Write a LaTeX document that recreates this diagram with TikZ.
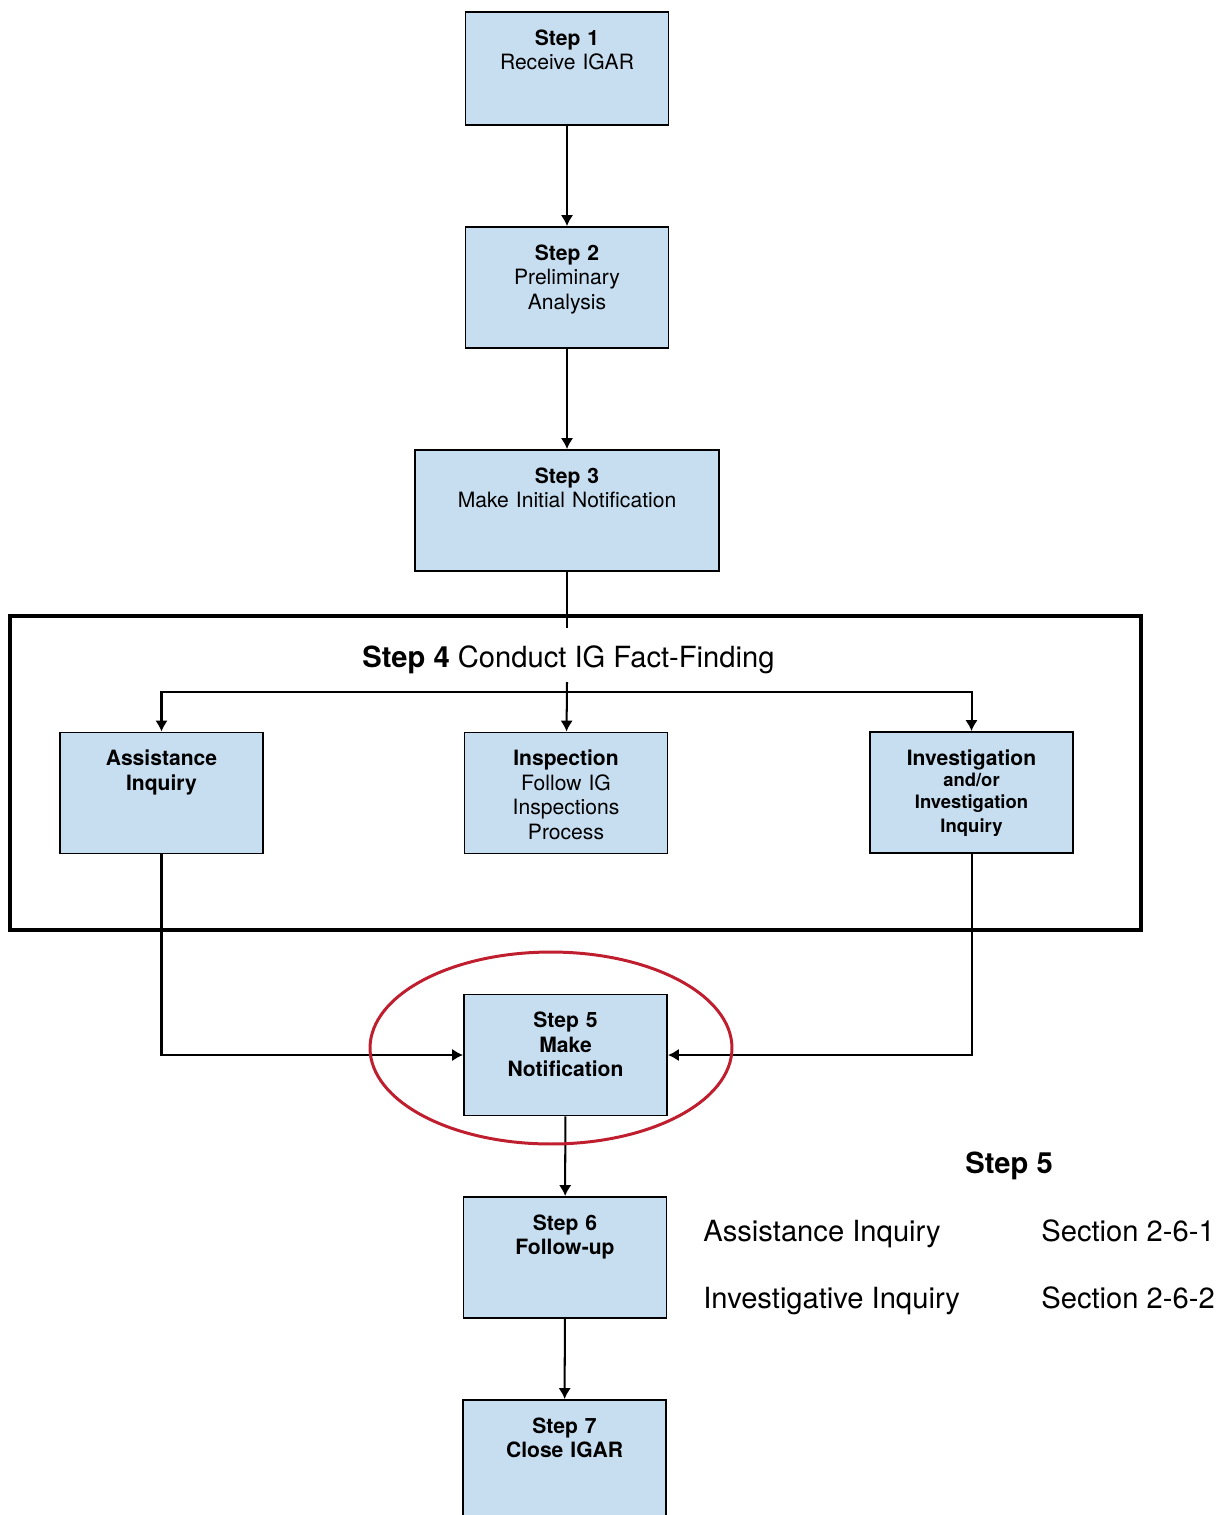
\documentclass[tikz,border=0pt]{standalone}
\usepackage{fontspec}
\setmainfont{TeX Gyre Heros}
\usetikzlibrary{arrows.meta}
\definecolor{boxblue}{RGB}{199,222,240}
\definecolor{ringred}{RGB}{190,30,45}
\tikzset{>={Latex[length=2.2mm, width=2.5mm]},
  stepbox/.style={draw, line width=1.1pt, fill=boxblue, inner sep=0pt,
    text width=4.06cm, align=center, text height=0.66cm, text depth=1.76cm,
    font=\fontsize{12}{14}\selectfont},
  conn/.style={line width=1.15pt},
  bigtext/.style={anchor=base west, inner sep=0pt, font=\fontsize{16.6}{19}\selectfont}}

\begin{document}
\begin{tikzpicture}[x=0.02cm, y=-0.02cm]
\useasboundingbox (0,0) rectangle (1218,1515);
% steps
\node[stepbox, text depth=1.60cm] (s1) at (567,68.5) {\textbf{Step 1}\\Receive IGAR};
\node[stepbox] (s2) at (567,287.5) {\textbf{Step 2}\\Preliminary\\Analysis};
\node[stepbox, text width=6.08cm] (s3) at (567,510.5) {\textbf{Step 3}\\Make Initial Notification};
\node[stepbox] (assist) at (161.5,793) {\textbf{Assistance\\Inquiry}};
\node[stepbox] (insp) at (566,793) {\textbf{Inspection}\\Follow IG\\Inspections\\Process};
\node[stepbox] (invest) at (971.5,792.5) {\textbf{Investigation}\\\fontsize{10.5}{12.3}\selectfont\bfseries and/or\\Investigation\\Inquiry};
\node[stepbox] (s5) at (565.5,1055) {\textbf{Step 5\\Make\\Notification}};
\node[stepbox] (s6) at (565,1257.5) {\textbf{Step 6\\Follow-up}};
\node[stepbox] (s7) at (564.5,1460.5) {\textbf{Step 7\\Close IGAR}};

% step 4 frame
\draw[line width=2pt] (10,616) rectangle (1141,930);
\node[bigtext] (s4title) at (362,667) {\textbf{Step 4} Conduct IG Fact-Finding};
\coordinate (s4top) at (567,628);
\coordinate (s4in) at (567,682);
\coordinate (bus) at (567,692);

\draw[conn,->] (s1) -- (s2);
\draw[conn,->] (s2) -- (s3);
\draw[conn] (s3) -- (s4top);
\draw[conn,->] (s4in) -- (insp);
\draw[conn,->] (bus) -| (assist);
\draw[conn,->] (bus) -| (invest);
\draw[conn,->] (assist) |- (s5);
\draw[conn,->] (invest) |- (s5);
\draw[conn,->] (s5) -- (s6);
\draw[conn,->] (s6) -- (s7);

\draw[ringred, line width=1.7pt] (551,1048) ellipse [x radius=3.62cm, y radius=1.92cm];

% references
\node[bigtext] (ref) at (965,1173) {\textbf{Step 5}};
\node[bigtext] (refa) at (703,1241) {Assistance Inquiry};
\node[bigtext] (refb) at (703,1308) {Investigative Inquiry};
\node[bigtext] (seca) at (1041,1241) {Section 2-6-1};
\node[bigtext] (secb) at (1041,1308) {Section 2-6-2};
\end{tikzpicture}
\end{document}
